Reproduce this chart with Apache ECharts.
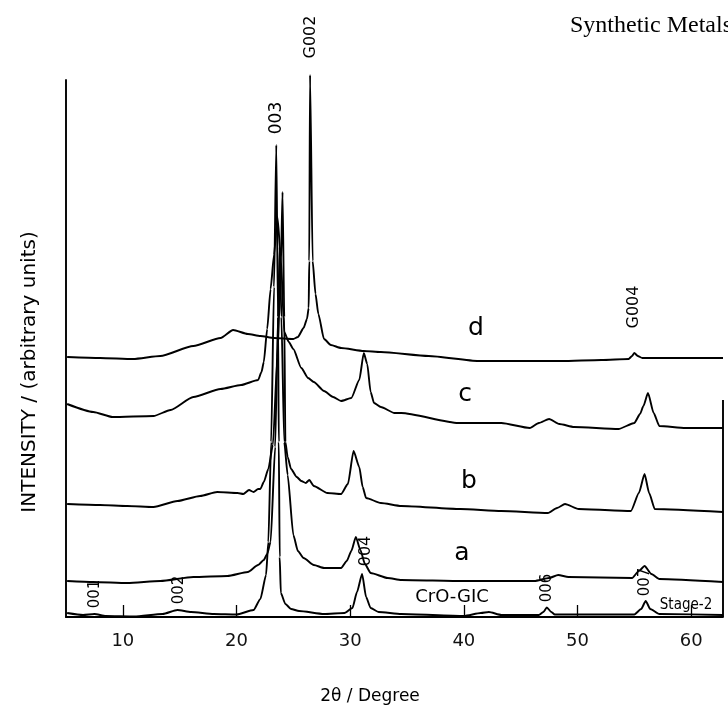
<!DOCTYPE html>
<html>
<head>
<meta charset="utf-8">
<script src="https://cdn.jsdelivr.net/npm/echarts@6/dist/echarts.min.js"></script>
<style>
  html, body { margin: 0; padding: 0; background: #fff; }
  #main { width: 728px; height: 710px; }
</style>
</head>
<body>
<div id="main"></div>
<script>
// 2theta tick labels
var xTicks = [10, 20, 30, 40, 50, 60];

// traces: [2theta, intensity (arbitrary)]
var curveD = [
  [5.1, 260], [8, 259], [10.9, 258], [13.3, 261], [16.2, 271], [18.6, 279], [19.7, 287], [21.0, 283],
  [22.1, 281], [23.3, 279], [25.0, 278], [25.4, 280], [25.9, 289], [26.2, 298], [26.35, 309], [26.4, 356],
  [26.47, 542], [26.7, 356], [26.95, 323], [27.2, 303], [27.7, 278], [28.3, 272], [29.2, 269], [31.2, 266],
  [32.7, 265], [36.9, 261], [41.3, 256], [45, 256], [48.6, 256], [52.1, 257], [54.5, 258], [54.8, 261],
  [55.0, 264], [55.3, 261], [55.7, 259], [58, 259], [62.8, 259]
];
var curveC = [
  [5.1, 213], [7.4, 205], [9.1, 200], [12.7, 201], [14.2, 207], [16.2, 220], [18.6, 228], [20.4, 232],
  [21.9, 237], [22.2, 245], [22.4, 255], [22.7, 288], [23.0, 328], [23.3, 362], [23.6, 400], [23.9, 360],
  [24.2, 285], [24.6, 275], [25.0, 268], [25.7, 249], [26.3, 239], [26.8, 235], [27.7, 226], [28.5, 220],
  [29.2, 216], [30.1, 219], [30.8, 237], [31.2, 264], [31.5, 253], [31.8, 225], [32.1, 214], [32.7, 210],
  [33.9, 204], [34.5, 204], [39.5, 194], [43.3, 194], [45.8, 189], [46.6, 194], [47.5, 198], [48.4, 193],
  [49.7, 190], [53.6, 188], [55.0, 194], [55.5, 203], [55.8, 211], [56.2, 224], [56.7, 204], [57.2, 191],
  [59.5, 189], [62.8, 189]
];
var curveB = [
  [5.1, 113], [8, 112], [10.4, 111], [12.7, 110], [14.8, 116], [16.8, 121], [18.3, 125], [20.1, 124],
  [20.6, 123], [21.1, 127], [21.5, 125], [21.9, 128], [22.1, 128], [22.4, 135], [22.8, 148], [23.2, 172],
  [23.6, 260], [23.9, 350], [24.05, 425], [24.2, 300], [24.3, 175], [24.5, 160], [24.8, 148], [25.3, 140],
  [25.7, 136], [26.1, 134], [26.4, 137], [26.8, 131], [28.0, 124], [29.2, 123], [29.8, 133], [30.3, 166],
  [30.8, 150], [31.1, 130], [31.4, 119], [32.7, 114], [34.5, 111], [39.7, 108], [43.3, 106], [47.4, 104],
  [48.2, 109], [48.9, 113], [50.1, 108], [54.7, 106], [55.4, 124], [55.9, 143], [56.3, 124], [56.8, 108],
  [62.8, 105]
];
var curveA = [
  [5.1, 36], [7.4, 35], [10.4, 34], [13.3, 36], [16.2, 40], [19.2, 41], [21.0, 45], [21.9, 52],
  [22.4, 57], [22.7, 63], [23.0, 75], [23.4, 170], [23.65, 300], [23.8, 370], [23.95, 300], [24.2, 175],
  [24.5, 142], [25.0, 82], [25.4, 66], [25.9, 59], [26.8, 52], [27.7, 49], [29.2, 49], [29.7, 56],
  [30.1, 66], [30.5, 80], [30.9, 67], [31.3, 53], [31.8, 44], [33.3, 39], [34.5, 37], [40, 36],
  [46.2, 36], [47.5, 39], [48.3, 42], [49.2, 40], [54.8, 39], [55.4, 46], [55.9, 51], [56.5, 43],
  [57.2, 38], [62.8, 35]
];
var curveCrO = [
  [5.1, 4], [6.5, 2], [7.5, 3], [8.5, 1], [11, 0.5], [13.5, 3], [14.8, 7], [16, 5], [18, 3], [20, 2.5],
  [21.5, 7], [22.1, 18], [22.6, 42], [22.8, 75], [23.05, 175], [23.3, 330], [23.5, 472], [23.65, 300],
  [23.72, 175], [23.8, 60], [23.9, 24], [24.3, 13], [24.8, 8], [25.5, 6], [27.7, 3], [29.5, 4], [30.2, 9],
  [30.6, 25], [31.05, 43], [31.4, 20], [31.8, 9], [32.5, 5], [34.5, 3], [40, 1], [41.5, 4], [42.2, 5],
  [43.3, 2], [46.6, 2], [47.0, 5], [47.3, 9.5], [47.7, 5], [48.0, 2.5], [55.0, 2.5], [55.6, 8], [56.0, 16],
  [56.4, 8], [57.2, 3], [62.8, 2]
];

var xMin = 5, xMax = 62.8;
var yMax = 537;
var rightFrameTop = 217;

var myChart = echarts.init(document.getElementById('main'));

function trace(name, data) {
  return {
    name: name,
    type: 'line',
    data: data,
    showSymbol: false,
    smooth: 0.2,
    smoothMonotone: 'x',
    clip: false,
    lineStyle: { color: '#000', width: 1.9 },
    animation: false
  };
}

var seriesList = [
  trace('d', curveD),
  trace('c', curveC),
  trace('b', curveB),
  trace('a', curveA),
  trace('CrO-GIC', curveCrO)
];
// partial right frame
seriesList[4].markLine = {
  symbol: 'none',
  silent: true,
  label: { show: false },
  lineStyle: { color: '#000', width: 1.9, type: 'solid' },
  data: [[{ coord: [xMax, 0] }, { coord: [xMax, rightFrameTop] }]]
};

function vtext(text, x, y, size) {
  return {
    type: 'text', x: x, y: y, rotation: Math.PI / 2,
    style: { text: text, fill: '#000', font: size + 'px "DejaVu Sans"', align: 'center', verticalAlign: 'middle' }
  };
}
function htext(text, x, y, font, align) {
  return {
    type: 'text', x: x, y: y,
    style: { text: text, fill: '#000', font: font, align: align || 'center', verticalAlign: 'middle' }
  };
}

var option = {
  animation: false,
  backgroundColor: '#fff',
  grid: { left: 66, right: 5, top: 80, bottom: 93 },
  xAxis: {
    type: 'value',
    min: xMin,
    max: xMax,
    axisLine: { lineStyle: { color: '#000', width: 1.9 } },
    axisTick: { inside: true, length: 12, customValues: xTicks, lineStyle: { color: '#000', width: 1.3 } },
    axisLabel: { customValues: xTicks, color: '#111', fontSize: 18, fontFamily: 'DejaVu Sans', margin: 15 },
    splitLine: { show: false }
  },
  yAxis: {
    type: 'value',
    min: 0,
    max: yMax,
    axisLine: { show: true, lineStyle: { color: '#000', width: 1.9 } },
    axisTick: { show: false },
    axisLabel: { show: false },
    splitLine: { show: false }
  },
  series: seriesList,
  graphic: [
    htext('Synthetic Metals', 570, 26, '24px "Liberation Serif"', 'left'),
    vtext('G002', 311, 37, 16),
    vtext('003', 277, 118, 17),
    vtext('G004', 634, 307, 16),
    vtext('004', 366, 551, 16),
    vtext('001', 95, 594, 15),
    vtext('002', 179, 590, 15),
    vtext('006', 547, 588, 15),
    vtext('007', 645, 582, 15),
    htext('CrO-GIC', 452, 597, '18px "DejaVu Sans"'),
    htext('Stage-2', 686, 605, '15px "DejaVu Sans Condensed"'),
    htext('d', 476, 328, '25px "DejaVu Sans"'),
    htext('c', 465, 394, '25px "DejaVu Sans"'),
    htext('b', 469, 481, '25px "DejaVu Sans"'),
    htext('a', 462, 553, '25px "DejaVu Sans"'),
    htext('2\u03b8 / Degree', 370, 697, '17px "DejaVu Sans"'),
    vtext('INTENSITY / (arbitrary units)', 30, 372, 20)
  ]
};

myChart.setOption(option);
</script>
</body>
</html>
